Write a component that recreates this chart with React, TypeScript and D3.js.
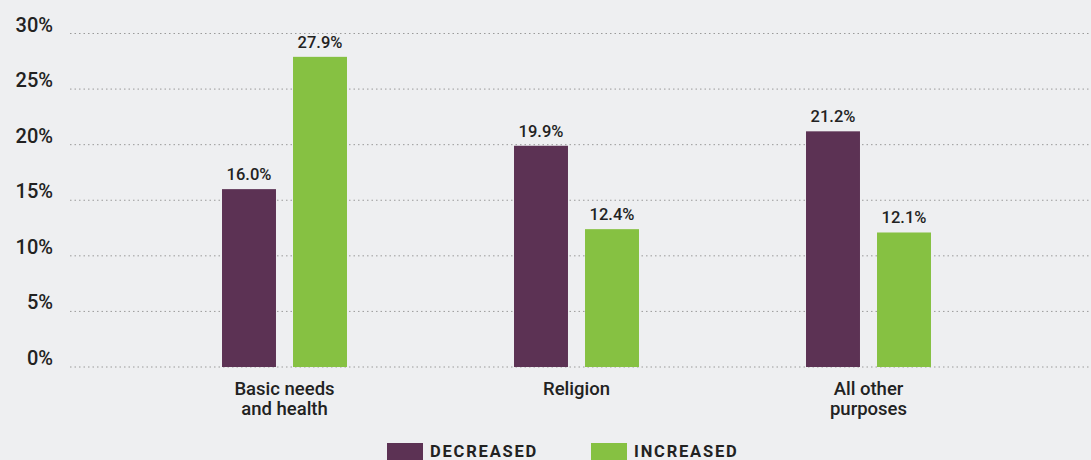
import { useEffect, useRef } from "react";
import * as d3 from "d3";

const categories = [["Basic needs", "and health"], ["Religion"], ["All other", "purposes"]];
const seriesNames = ["DECREASED", "INCREASED"];
const decreased = [16.0, 19.9, 21.2];
const increased = [27.9, 12.4, 12.1];
const yTicks = [0, 5, 10, 15, 20, 25, 30];

const colors = ["#5c3254", "#86c142"];
const W = 1091;
const H = 460;

export default function App() {
  const svgRef = useRef<SVGSVGElement>(null);

  useEffect(() => {
    if (!svgRef.current) return;
    const svg = d3.select(svgRef.current);
    svg.selectAll("*").remove();
    const font = "Roboto, 'Noto Sans', sans-serif";

    svg.append("rect").attr("width", W).attr("height", H).attr("fill", "#eeeff1");

    const y = d3.scaleLinear().domain([0, 30]).range([367, 33.5]);
    const keys = categories.map((c) => c.join(" "));
    const x0 = d3
      .scaleBand<string>()
      .domain(keys)
      .range([138.5, 1014.5])
      .paddingInner(0.572)
      .paddingOuter(0.286);
    const x1 = d3
      .scaleBand<string>()
      .domain(seriesNames)
      .range([0, x0.bandwidth()])
      .paddingInner(0.24);

    // dotted gridlines
    svg
      .append("g")
      .selectAll("line")
      .data(yTicks)
      .join("line")
      .attr("x1", 70)
      .attr("x2", W)
      .attr("y1", (d) => y(d))
      .attr("y2", (d) => y(d))
      .attr("stroke", "#9a9a9a")
      .attr("stroke-width", 1)
      .attr("stroke-dasharray", "1.5 3");

    // y labels
    svg
      .append("g")
      .selectAll("text")
      .data(yTicks)
      .join("text")
      .attr("x", 53)
      .attr("y", (d) => y(d) - 2)
      .attr("text-anchor", "end")
      .style("font-family", font)
      .style("font-size", "20px")
      .style("font-weight", "500")
      .style("fill", "#222")
      .text((d) => `${d}%`);

    const rows = keys.map((k, i) => ({
      key: k,
      vals: [decreased[i], increased[i]],
    }));

    const groups = svg
      .append("g")
      .selectAll("g")
      .data(rows)
      .join("g")
      .attr("transform", (d) => `translate(${x0(d.key)},0)`);

    groups.each(function (row) {
      const g = d3.select(this);
      row.vals.forEach((v, j) => {
        const bx = x1(seriesNames[j])!;
        g.append("rect")
          .attr("x", bx)
          .attr("y", y(v))
          .attr("width", x1.bandwidth())
          .attr("height", y(0) - y(v))
          .attr("fill", colors[j]);
        g.append("text")
          .attr("x", bx + x1.bandwidth() / 2)
          .attr("y", y(v) - 9)
          .attr("text-anchor", "middle")
          .style("font-family", font)
          .style("font-size", "16.5px")
          .style("font-weight", "500")
          .style("fill", "#222")
          .text(`${v.toFixed(1)}%`);
      });
    });

    // category labels
    categories.forEach((lines, i) => {
      const cx = x0(keys[i])! + x0.bandwidth() / 2;
      lines.forEach((ln, k) => {
        svg
          .append("text")
          .attr("x", cx)
          .attr("y", 395 + k * 20)
          .attr("text-anchor", "middle")
          .style("font-family", font)
          .style("font-size", "18.5px")
          .style("font-weight", "500")
          .style("fill", "#222")
          .text(ln);
      });
    });

    // legend
    const legendX = [387, 591];
    seriesNames.forEach((name, j) => {
      svg
        .append("rect")
        .attr("x", legendX[j])
        .attr("y", 443)
        .attr("width", 36)
        .attr("height", 20)
        .attr("fill", colors[j]);
      svg
        .append("text")
        .attr("x", legendX[j] + 43)
        .attr("y", 457)
        .style("font-family", font)
        .style("font-size", "16.5px")
        .style("font-weight", "700")
        .style("letter-spacing", "1.8px")
        .style("fill", "#222")
        .text(name);
    });
  }, []);

  return (
    <svg
      ref={svgRef}
      width={W}
      height={H}
      style={{ position: "absolute", left: 0, top: 0, display: "block" }}
    />
  );
}
